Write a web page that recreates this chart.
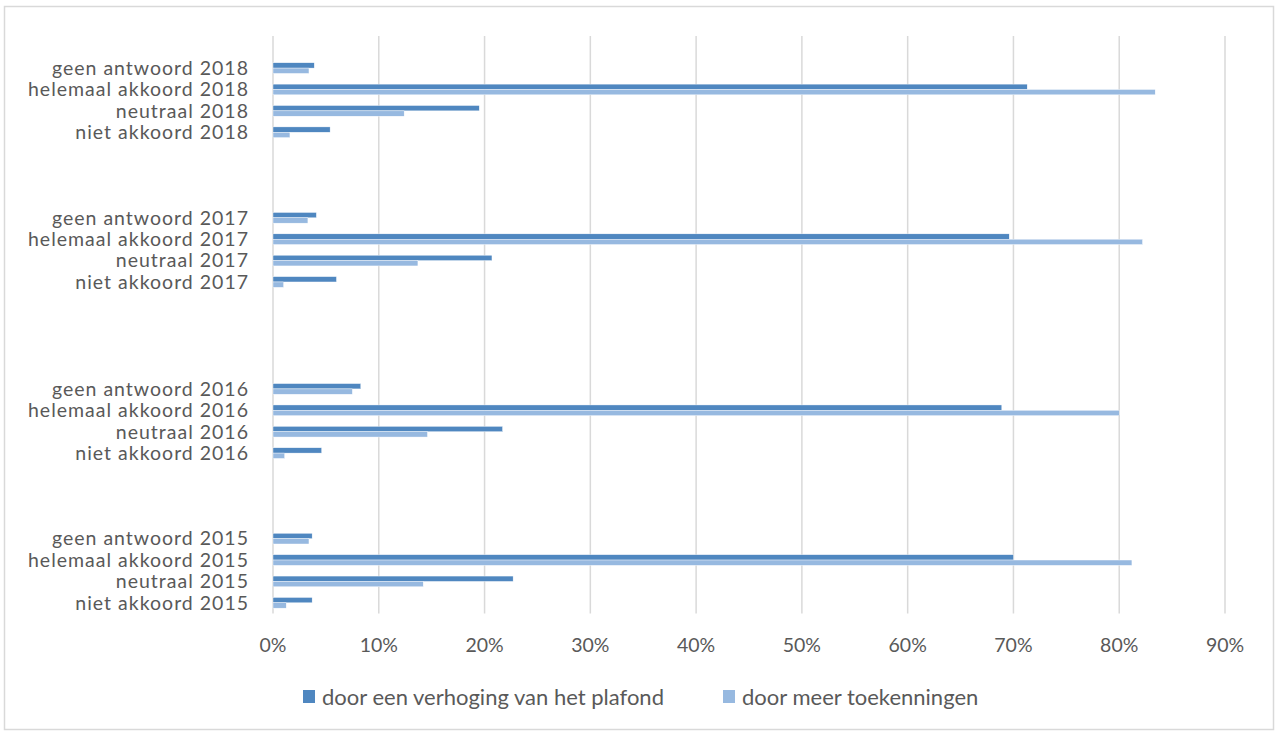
<!DOCTYPE html>
<html>
<head>
<meta charset="utf-8">
<script src="https://cdn.jsdelivr.net/npm/d3@7"></script>
<style>
  body { margin: 0; background: #fff; }
  text { font-family: Lato, "Open Sans", sans-serif; fill: #595959; }
</style>
</head>
<body>
<div id="chart"></div>
<script>
// Data (blank entries are empty category slots, as in the original)
const categories = [
    '',
    'geen antwoord 2018', 'helemaal akkoord 2018', 'neutraal 2018', 'niet akkoord 2018',
    '', '', '',
    'geen antwoord 2017', 'helemaal akkoord 2017', 'neutraal 2017', 'niet akkoord 2017',
    '', '', '', '',
    'geen antwoord 2016', 'helemaal akkoord 2016', 'neutraal 2016', 'niet akkoord 2016',
    '', '', '',
    'geen antwoord 2015', 'helemaal akkoord 2015', 'neutraal 2015', 'niet akkoord 2015',
];
const plafond = [
    null,
    3.9, 71.3, 19.5, 5.4,
    null, null, null,
    4.1, 69.6, 20.7, 6.0,
    null, null, null, null,
    8.3, 68.9, 21.7, 4.6,
    null, null, null,
    3.7, 70.0, 22.7, 3.7,
];
const toekenningen = [
    null,
    3.4, 83.4, 12.4, 1.6,
    null, null, null,
    3.3, 82.2, 13.7, 1.0,
    null, null, null, null,
    7.5, 80.0, 14.6, 1.1,
    null, null, null,
    3.4, 81.2, 14.2, 1.25,
];
const seriesNames = ['door een verhoging van het plafond', 'door meer toekenningen'];
const seriesColors = ['#4f87c0', '#97b9e0'];
const tickValues = [0, 10, 20, 30, 40, 50, 60, 70, 80, 90];

const dimensions = {
    width: 1278,
    height: 733,
    plot: { left: 273, right: 1225, top: 36, bottom: 613.5 },
};

const svg = d3
    .select('#chart')
    .append('svg')
    .attr('width', dimensions.width)
    .attr('height', dimensions.height)
    ;

// chart border
svg.append('rect')
    .attr('x', 4.5)
    .attr('y', 6.5)
    .attr('width', 1269)
    .attr('height', 723)
    .attr('fill', 'none')
    .attr('stroke', '#d9d9d9')
    .attr('stroke-width', 1.5)
    ;

// Scales
const xScale = d3
    .scaleLinear()
    .domain([0, 90])
    .range([dimensions.plot.left, dimensions.plot.right])
    ;

const yScale = d3
    .scaleBand()
    .domain(d3.range(categories.length))
    .range([dimensions.plot.top, dimensions.plot.bottom])
    ;

const barH = yScale.bandwidth() / 4;

// Gridlines
svg.append('g')
    .selectAll('line')
    .data(tickValues)
    .join('line')
    .attr('x1', d => xScale(d))
    .attr('x2', d => xScale(d))
    .attr('y1', dimensions.plot.top)
    .attr('y2', dimensions.plot.bottom)
    .attr('stroke', '#d9d9d9')
    .attr('stroke-width', 1.5)
    ;

// Bars
const series = [plafond, toekenningen];
series.forEach((values, s) => {
    svg.append('g')
        .selectAll('rect')
        .data(values.map((v, i) => ({ v, i })).filter(d => d.v !== null))
        .join('rect')
        .attr('x', xScale(0))
        .attr('y', d => yScale(d.i) + yScale.bandwidth() / 4 + s * barH)
        .attr('width', d => xScale(d.v) - xScale(0))
        .attr('height', barH)
        .attr('fill', seriesColors[s])
        .attr('stroke', '#fff')
        .attr('stroke-width', 0.4)
        ;
});

// Category labels
svg.append('g')
    .selectAll('text')
    .data(categories.map((c, i) => ({ c, i })).filter(d => d.c !== ''))
    .join('text')
    .attr('x', 249)
    .attr('y', d => yScale(d.i) + yScale.bandwidth() / 2)
    .attr('dy', '0.35em')
    .attr('text-anchor', 'end')
    .style('font-size', '19.5px')
    .style('letter-spacing', '1px')
    .text(d => d.c)
    ;

// X axis tick labels
svg.append('g')
    .selectAll('text')
    .data(tickValues)
    .join('text')
    .attr('x', d => xScale(d))
    .attr('y', 645)
    .attr('dy', '0.35em')
    .attr('text-anchor', 'middle')
    .style('font-size', '19.5px')
    .text(d => d + '%')
    ;

// Legend
const legendX = [303, 723];
seriesNames.forEach((name, s) => {
    svg.append('rect')
        .attr('x', legendX[s])
        .attr('y', 690)
        .attr('width', 12)
        .attr('height', 13)
        .attr('fill', seriesColors[s])
        ;
    svg.append('text')
        .attr('x', legendX[s] + 19)
        .attr('y', 697)
        .attr('dy', '0.35em')
        .style('font-size', '22px')
        .text(name)
        ;
});
</script>
</body>
</html>
